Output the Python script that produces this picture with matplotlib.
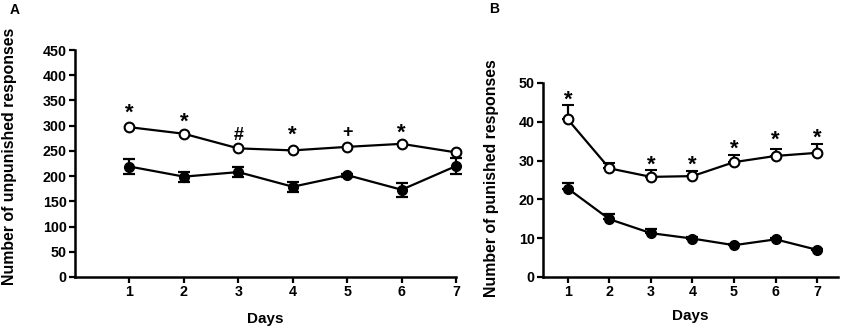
import matplotlib
matplotlib.use("Agg")
import matplotlib.pyplot as plt
import numpy as np

plt.rcParams['font.family'] = ['Liberation Sans', 'DejaVu Sans']
plt.rcParams['font.weight'] = 'bold'

days = [1, 2, 3, 4, 5, 6, 7]

# Panel A: unpunished responses
a_open = [297, 284, 255, 251, 258, 264, 247]
a_open_err = [3, 3, 3, 3, 3, 3, 3]
a_filled = [219, 199, 208, 179, 202, 173, 220]
a_filled_err = [15, 10, 10, 10, 3, 14, 15]
a_marks = ['*', '*', '#', '*', '+', '*', '']
a_mark_y = [325, 307, 280, 281, 287, 286, None]

# Panel B: punished responses
b_open = [40.6, 28.0, 25.8, 26.0, 29.6, 31.2, 32.0]
b_open_err = [3.6, 1.5, 1.7, 1.3, 1.8, 1.9, 2.3]
b_filled = [22.8, 14.9, 11.3, 9.9, 8.2, 9.7, 7.0]
b_filled_err = [1.5, 1.3, 1.1, 0.3, 0.3, 0.3, 0.3]
b_marks = ['*', '', '*', '*', '*', '*', '*']
b_mark_y = [45.5, None, 28.7, 28.7, 33.0, 35.3, 35.8]

fig = plt.figure(figsize=(8.43, 3.28), dpi=100)
axA = fig.add_axes([0.089, 0.1555, 0.452, 0.692])
axB = fig.add_axes([0.644, 0.1555, 0.350, 0.5915])

def style(ax):
    for s in ['top', 'right']:
        ax.spines[s].set_visible(False)
    for s in ['left', 'bottom']:
        ax.spines[s].set_linewidth(1.8)
    ax.tick_params(width=1.6, length=4, labelsize=10.3, direction='out', pad=2)
    for lab in ax.get_xticklabels() + ax.get_yticklabels():
        lab.set_fontweight('bold')

# Panel A
axA.errorbar(days, a_filled, yerr=a_filled_err, color='black', marker='o',
             markersize=7, mfc='black', mec='black', lw=1.6, capsize=4,
             capthick=1.6, elinewidth=1.6, clip_on=False)
axA.errorbar(days, a_open, yerr=a_open_err, color='black', marker='o',
             markersize=7, mfc='white', mec='black', mew=1.5, lw=1.6,
             capsize=3, capthick=1.2, elinewidth=1.2, clip_on=False)
for d, m, y in zip(days, a_marks, a_mark_y):
    if m:
        axA.text(d, y, m, ha='center', va='center', fontsize=16 if m == '*' else 13,
                 fontweight='bold')
axA.set_xlim(0, 7)
axA.set_ylim(0, 450)
axA.set_xticks(days)
axA.set_yticks(np.arange(0, 451, 50))
axA.set_xlabel('Days', fontsize=11, fontweight='bold', labelpad=9)
axA.set_ylabel('Number of unpunished responses', fontsize=11.4, fontweight='bold')
axA.yaxis.set_label_coords(-0.152, 0.53)
style(axA)

# Panel B
axB.errorbar(days, b_filled, yerr=[np.zeros(7), b_filled_err], color='black',
             marker='o', markersize=7, mfc='black', mec='black', lw=1.6,
             capsize=4, capthick=1.6, elinewidth=1.6, clip_on=False)
axB.errorbar(days, b_open, yerr=[np.zeros(7), b_open_err], color='black',
             marker='o', markersize=7, mfc='white', mec='black', mew=1.5,
             lw=1.6, capsize=4, capthick=1.6, elinewidth=1.6, clip_on=False)
for d, m, y in zip(days, b_marks, b_mark_y):
    if m:
        axB.text(d, y, m, ha='center', va='center', fontsize=16, fontweight='bold')
axB.set_xlim(0.4, 7.5)
axB.set_ylim(0, 50)
axB.set_xticks(days)
axB.set_yticks(np.arange(0, 51, 10))
axB.set_xlabel('Days', fontsize=11, fontweight='bold', labelpad=7)
axB.set_ylabel('Number of punished responses', fontsize=11.4, fontweight='bold')
axB.yaxis.set_label_coords(-0.15, 0.51)
style(axB)

fig.text(0.011, 0.968, 'A', fontsize=10, fontweight='bold', va='center')
fig.text(0.580, 0.972, 'B', fontsize=10, fontweight='bold', va='center')

fig.savefig('out.png', dpi=100)
